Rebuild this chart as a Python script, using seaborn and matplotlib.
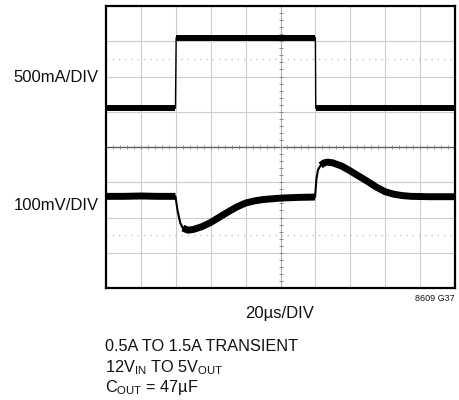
import numpy as np
import pandas as pd
import matplotlib
matplotlib.use('Agg')
import matplotlib.pyplot as plt
import seaborn as sns

# scope graticule: 10 x 8 divisions, time in us (20us/DIV), trace levels in divisions
# load current trace (500mA/DIV)
current_t = [0, 39.8, 40.2, 120.0, 120.2, 200]
current_div = [5.10, 5.10, 7.10, 7.10, 5.10, 5.10]

# output voltage trace (100mV/DIV)
voltage_t = [0, 10, 20, 30, 39.8, 41.0, 42.5, 44.0, 47.0, 50.0, 55.0, 60.0, 65.0, 70.0, 75.0,
             80.0, 85.0, 90.0, 100.0, 110.0, 119.8, 120.6, 121.5, 123.0, 125.0, 127.0, 130.0,
             135.0, 140.0, 145.0, 150.0, 155.0, 160.0, 165.0, 170.0, 175.0, 185.0, 200.0]
voltage_div = [2.60, 2.60, 2.61, 2.60, 2.60, 2.20, 1.85, 1.70, 1.64, 1.66, 1.74, 1.86, 2.01, 2.16,
               2.30, 2.41, 2.47, 2.51, 2.55, 2.57, 2.58, 3.10, 3.35, 3.48, 3.55, 3.57, 3.55,
               3.46, 3.32, 3.17, 3.02, 2.86, 2.73, 2.66, 2.62, 2.60, 2.59, 2.59]

# edges are drawn thin, flat/slow parts thick (noise band)
current_seg = [0, 0, 1, 1, 2, 2]
voltage_seg = [0] * 5 + [1] * 2 + [2] * 14 + [3] * 2 + [4] * 15

fig_w, fig_h = 459, 400
box = (106, 6, 455, 288)  # left, top, right, bottom in px

sns.set_style('white')
plt.rcParams['font.family'] = ['Liberation Sans', 'DejaVu Sans']
plt.rcParams['mathtext.fontset'] = 'custom'
plt.rcParams['mathtext.rm'] = 'Liberation Sans'

fig = plt.figure(figsize=(fig_w / 100, fig_h / 100), dpi=100)
ax = fig.add_axes([box[0] / fig_w, 1 - box[3] / fig_h,
                   (box[2] - box[0]) / fig_w, (box[3] - box[1]) / fig_h])

# graticule
grid_c = '#cccccc'
for x in range(20, 200, 20):
    if x != 100:
        ax.axvline(x, color=grid_c, lw=0.8, zorder=1)
for y in range(1, 8):
    if y != 4:
        ax.axhline(y, color=grid_c, lw=0.8, zorder=1)
for y in (1.5, 6.5):
    ax.axhline(y, color='#bbbbbb', lw=0.9, ls=(0, (1, 4)), zorder=1)
ax.axhline(4, color='#555555', lw=0.9, zorder=1)
ax.axvline(100, color='#aaaaaa', lw=0.8, zorder=1)
ax.plot(np.arange(0, 201, 4), np.full(51, 4.0), ls='none', marker='|', ms=3,
        mew=0.7, color='#888888', zorder=1)
ax.plot(np.full(41, 100.0), np.arange(0, 8.01, 0.2), ls='none', marker='_', ms=3,
        mew=0.7, color='#888888', zorder=1)

cur = pd.DataFrame({'t': current_t, 'div': current_div, 'seg': current_seg})
vol = pd.DataFrame({'t': voltage_t, 'div': voltage_div, 'seg': voltage_seg})

# thin full traces
sns.lineplot(data=cur, x='t', y='div', color='black', lw=1.0, estimator=None, sort=False, ax=ax, zorder=3)
sns.lineplot(data=vol, x='t', y='div', color='black', lw=1.5, estimator=None, sort=False, ax=ax, zorder=3)
# thick noise band on the flat parts
cur_flat = cur[cur['seg'].isin([0, 1, 2])]
sns.lineplot(data=cur_flat, x='t', y='div', units='seg', color='black', lw=4.3,
             estimator=None, sort=False, ax=ax, zorder=4, solid_capstyle='butt')
vol_flat = vol[vol['seg'].isin([0, 2, 4])]
sns.lineplot(data=vol_flat, x='t', y='div', units='seg', color='black', lw=5.0,
             estimator=None, sort=False, ax=ax, zorder=4, solid_capstyle='butt')

ax.set_xlim(0, 200)
ax.set_ylim(0, 8)
ax.set_xticks([])
ax.set_yticks([])
ax.set_xlabel('')
ax.set_ylabel('')
for s in ax.spines.values():
    s.set_visible(True)
    s.set_color('black')
    s.set_linewidth(1.6)


def px_text(x, y, s, size, ha='left', va='baseline'):
    fig.text(x / fig_w, 1 - y / fig_h, s, fontsize=size, ha=ha, va=va, color='#111111')


px_text(99, 82, '500mA/DIV', 12, ha='right')
px_text(99, 210, '100mV/DIV', 12, ha='right')
px_text(280, 318, '20µs/DIV', 12, ha='center')
px_text(455, 301, '8609 G37', 6.5, ha='right')
px_text(105, 351, '0.5A TO 1.5A TRANSIENT', 11.7)
px_text(105, 372, r'12V$_{\mathregular{IN}}$ TO 5V$_{\mathregular{OUT}}$', 11.7)
px_text(105, 392, r'C$_{\mathregular{OUT}}$ = 47µF', 11.7)

fig.savefig('out.png', dpi=100)
